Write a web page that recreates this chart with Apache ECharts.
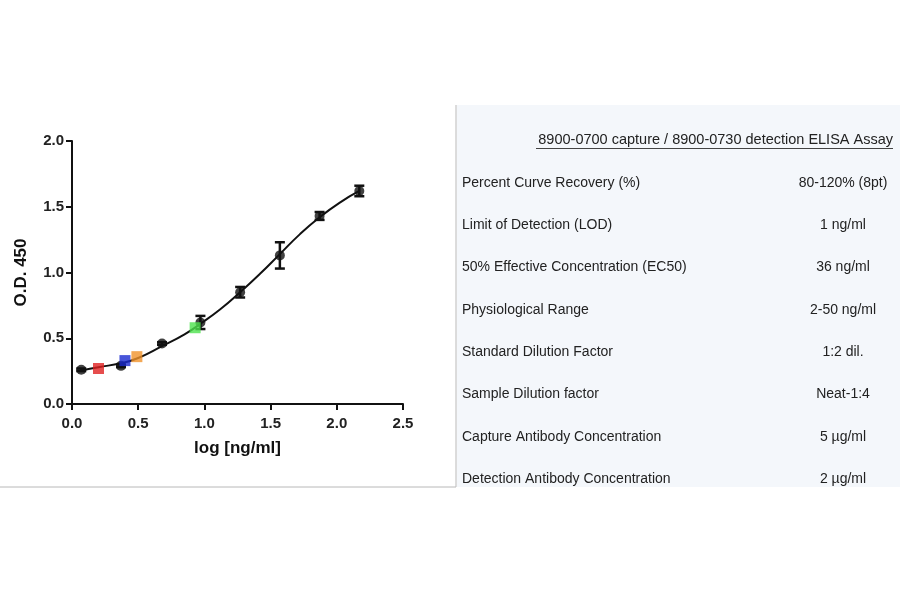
<!DOCTYPE html>
<html lang="en">
<head>
    <meta charset="UTF-8">
    <title>ELISA standard curve</title>
    <script src="https://cdn.jsdelivr.net/npm/echarts@6/dist/echarts.min.js"></script>
</head>
<body style="margin:0">
    <div id="main" style="width: 900px;height: 594px"></div>
<script>
    // standard points (black circles) with error bars
    var stdX = [0.07, 0.37, 0.68, 0.97, 1.27, 1.57, 1.87, 2.17];
    var stdY = [0.26, 0.29, 0.46, 0.62, 0.85, 1.13, 1.43, 1.62];
    var stdErr = [0.01, 0.01, 0.01, 0.05, 0.04, 0.10, 0.03, 0.04];
    // sample points (coloured squares)
    var sampleX = [0.20, 0.40, 0.49, 0.93];
    var sampleY = [0.27, 0.33, 0.36, 0.58];
    var sampleColors = ['#e02020', '#1a2bd0', '#f0922a', '#4de24d'];
    // fitted curve points
    var fitX = [0.07, 0.2, 0.37, 0.5, 0.68, 0.85, 0.97, 1.12, 1.27, 1.42, 1.57, 1.72, 1.87, 2.02, 2.17];
    var fitY = [0.255, 0.28, 0.31, 0.35, 0.44, 0.53, 0.61, 0.72, 0.85, 0.99, 1.14, 1.29, 1.42, 1.53, 1.62];
    var yTicks = ['0.0', '0.5', '1.0', '1.5', '2.0'];
    var tableTitle = '8900-0700 capture / 8900-0730 detection ELISA Assay';
    var rowLabels = ['Percent Curve Recovery (%)', 'Limit of Detection (LOD)', '50% Effective Concentration (EC50)',
        'Physiological Range', 'Standard Dilution Factor', 'Sample Dilution factor',
        'Capture Antibody Concentration', 'Detection Antibody Concentration'];
    var rowValues = ['80-120% (8pt)', '1 ng/ml', '36 ng/ml', '2-50 ng/ml', '1:2 dil.', 'Neat-1:4', '5 µg/ml', '2 µg/ml'];

    var chart = echarts.init(document.getElementById('main'));
    var font = 'Liberation Sans, Arial, sans-serif';

    var graphics = [
        {type: 'rect', shape: {x: 457, y: 105, width: 443, height: 382}, style: {fill: '#f4f7fb'}, z: -10},
        {type: 'line', shape: {x1: 0, y1: 487, x2: 456, y2: 487}, style: {stroke: '#b8b8b8', lineWidth: 1}},
        {type: 'line', shape: {x1: 456, y1: 105, x2: 456, y2: 487}, style: {stroke: '#b8b8b8', lineWidth: 1}},
        {type: 'text', x: 893, y: 140, style: {text: tableTitle, fill: '#222', font: '14.5px ' + font, textAlign: 'right', textVerticalAlign: 'middle'}},
        {type: 'line', shape: {x1: 536, y1: 148.5, x2: 893, y2: 148.5}, style: {stroke: '#444', lineWidth: 1}}
    ];
    rowLabels.forEach(function (label, i) {
        var y = 183 + i * 42.3;
        graphics.push({type: 'text', x: 462, y: y, style: {text: label, fill: '#222', font: '14px ' + font, textVerticalAlign: 'middle'}});
        graphics.push({type: 'text', x: 843, y: y, style: {text: rowValues[i], fill: '#222', font: '14px ' + font, textAlign: 'center', textVerticalAlign: 'middle'}});
    });

    var option = {
        animation: false,
        grid: {left: 72, right: 497, top: 141, bottom: 190},
        xAxis: {
            type: 'value', min: 0, max: 2.5, interval: 0.5,
            name: 'log [ng/ml]', nameLocation: 'middle', nameGap: 36,
            nameTextStyle: {fontSize: 17, fontWeight: 'bold', color: '#111', fontFamily: font},
            axisLine: {lineStyle: {color: '#111', width: 2}},
            axisTick: {lineStyle: {color: '#111', width: 2}, length: 6},
            axisLabel: {fontSize: 15, fontWeight: 'bold', color: '#222', fontFamily: font, margin: 12,
                formatter: function (v) { return v.toFixed(1); }},
            splitLine: {show: false}
        },
        yAxis: {
            type: 'value', min: 0, max: 2, interval: 0.5,
            name: 'O.D. 450', nameLocation: 'middle', nameGap: 42,
            nameTextStyle: {fontSize: 17, fontWeight: 'bold', color: '#111', fontFamily: font},
            axisLine: {show: true, lineStyle: {color: '#111', width: 2}},
            axisTick: {show: true, lineStyle: {color: '#111', width: 2}, length: 6},
            axisLabel: {fontSize: 15, fontWeight: 'bold', color: '#222', fontFamily: font, margin: 8,
                formatter: function (v) { return yTicks[Math.round(v * 2)]; }},
            splitLine: {show: false}
        },
        graphic: graphics,
        series: [
            {
                type: 'line', smooth: true, symbol: 'none',
                lineStyle: {color: '#111', width: 2},
                data: fitX.map(function (x, i) { return [x, fitY[i]]; }), z: 2
            },
            {
                type: 'custom',
                renderItem: function (params, api) {
                    var x = api.value(0), y = api.value(1), e = api.value(2);
                    var top = api.coord([x, y + e]), bot = api.coord([x, y - e]);
                    var w = 5;
                    var st = {stroke: '#111', lineWidth: 2.5};
                    return {type: 'group', children: [
                        {type: 'line', shape: {x1: top[0], y1: top[1], x2: bot[0], y2: bot[1]}, style: st},
                        {type: 'line', shape: {x1: top[0] - w, y1: top[1], x2: top[0] + w, y2: top[1]}, style: st},
                        {type: 'line', shape: {x1: bot[0] - w, y1: bot[1], x2: bot[0] + w, y2: bot[1]}, style: st}
                    ]};
                },
                data: stdX.map(function (x, i) { return [x, stdY[i], stdErr[i]]; }), z: 3
            },
            {
                type: 'scatter', symbol: 'circle', symbolSize: 10,
                itemStyle: {color: '#111'},
                data: stdX.map(function (x, i) { return [x, stdY[i]]; }), z: 4
            },
            {
                type: 'scatter', symbol: 'rect', symbolSize: 11,
                itemStyle: {color: function (p) { return sampleColors[p.dataIndex]; }},
                data: sampleX.map(function (x, i) { return [x, sampleY[i]]; }), z: 5
            }
        ]
    };
    chart.setOption(option);
</script>
</body>
</html>
